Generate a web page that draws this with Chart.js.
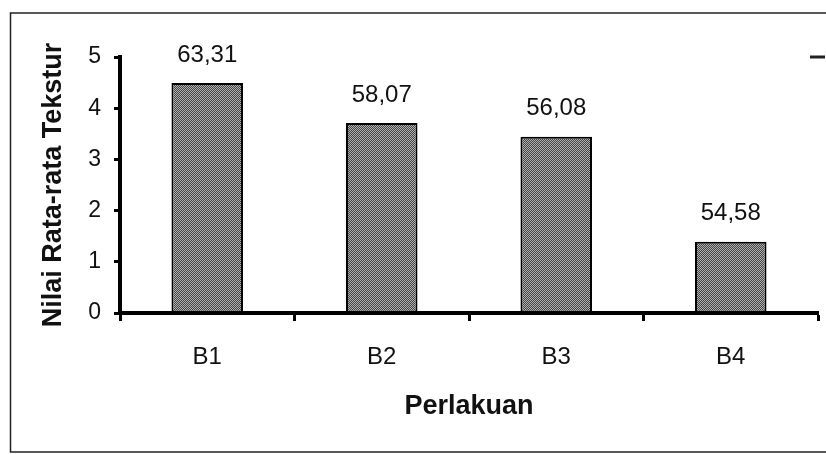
<!DOCTYPE html>
<html>
<head>
<meta charset="utf-8">
<script src="https://cdn.jsdelivr.net/npm/chart.js@4.4.0/dist/chart.umd.min.js"></script>
<style>
    html, body { margin: 0; padding: 0; background: #fff; }
    #chartDiv { width: 826px; height: 454px; }
</style>
</head>
<body>
<div id="chartDiv"><canvas id="teksturBar"></canvas></div>
<script>
// values
const perlakuan = ['B1', 'B2', 'B3', 'B4'];
const nilaiTekstur = [4.49, 3.71, 3.44, 1.39];
const labelNilai = ['63,31', '58,07', '56,08', '54,58'];
const yTicks = [0, 1, 2, 3, 4, 5];

// hatched grey fill like the scanned print
function makeHatch() {
    let c = document.createElement('canvas');
    c.width = 4;
    c.height = 4;
    let g = c.getContext('2d');
    g.fillStyle = '#b0b0b0';
    g.fillRect(0, 0, 4, 4);
    g.fillStyle = '#444';
    for (let i = 0; i < 4; i++) {
        g.fillRect(i, (i + 1) % 4, 1, 1);
        g.fillRect(i, (i + 3) % 4, 1, 1);
    }
    return g.createPattern(c, 'repeat');
}

// frame round the figure, the stray dash at the right, and the value labels
const extras = {
    id: 'extras',
    afterDraw(chart) {
        let ctx = chart.ctx;
        ctx.save();
        ctx.strokeStyle = '#222';
        ctx.lineWidth = 1.5;
        ctx.beginPath();
        ctx.moveTo(830, 13);
        ctx.lineTo(10.5, 13);
        ctx.lineTo(10.5, 452);
        ctx.lineTo(830, 452);
        ctx.stroke();

        ctx.lineWidth = 3;
        ctx.beginPath();
        ctx.moveTo(810, 57);
        ctx.lineTo(825, 57);
        ctx.stroke();

        ctx.fillStyle = '#111';
        ctx.font = '24px "Liberation Sans", Arial, sans-serif';
        ctx.textAlign = 'center';
        ctx.textBaseline = 'middle';
        let meta = chart.getDatasetMeta(0);
        meta.data.forEach(function (bar, i) {
            ctx.fillText(labelNilai[i], bar.x, bar.y - 28);
        });
        ctx.restore();
    }
};

let chart = new Chart(document.getElementById('teksturBar'), {
    type: 'bar',
    data: {
        labels: perlakuan,
        datasets: [{
            data: nilaiTekstur,
            backgroundColor: makeHatch(),
            borderColor: '#000',
            borderWidth: 2,
            borderSkipped: false,
            categoryPercentage: 1,
            barPercentage: 0.41
        }]
    },
    options: {
        responsive: true,
        maintainAspectRatio: false,
        animation: false,
        layout: { padding: { left: 0, top: 57, right: 8, bottom: 0 } },
        plugins: {
            legend: { display: false },
            tooltip: { enabled: false }
        },
        scales: {
            x: {
                afterFit: function (scale) { scale.height = 141; },
                grid: {
                    offset: true,
                    drawOnChartArea: false,
                    drawTicks: true,
                    tickLength: 8,
                    tickWidth: 3,
                    tickColor: '#000'
                },
                border: { display: true, color: '#000', width: 4 },
                ticks: {
                    padding: 22,
                    color: '#111',
                    font: { family: '"Liberation Sans", Arial, sans-serif', size: 24 }
                },
                title: {
                    display: true,
                    text: 'Perlakuan',
                    color: '#111',
                    padding: { top: 0, bottom: 31 },
                    font: { family: '"Liberation Sans", Arial, sans-serif', size: 27, weight: 'bold' }
                }
            },
            y: {
                min: 0,
                max: 5,
                afterFit: function (scale) { scale.width = 120; },
                afterBuildTicks: function (scale) {
                    scale.ticks = yTicks.map(function (v) { return { value: v }; });
                },
                grid: {
                    drawOnChartArea: false,
                    drawTicks: true,
                    tickLength: 6,
                    tickWidth: 3,
                    tickColor: '#000'
                },
                border: { display: true, color: '#000', width: 4 },
                ticks: {
                    padding: 13,
                    color: '#111',
                    font: { family: '"Liberation Sans", Arial, sans-serif', size: 23 }
                },
                title: {
                    display: true,
                    text: 'Nilai Rata-rata Tekstur',
                    color: '#111',
                    padding: { top: 37, bottom: 0 },
                    font: { family: '"Liberation Sans", Arial, sans-serif', size: 27, weight: 'bold' }
                }
            }
        }
    },
    plugins: [extras]
});
</script>
</body>
</html>
